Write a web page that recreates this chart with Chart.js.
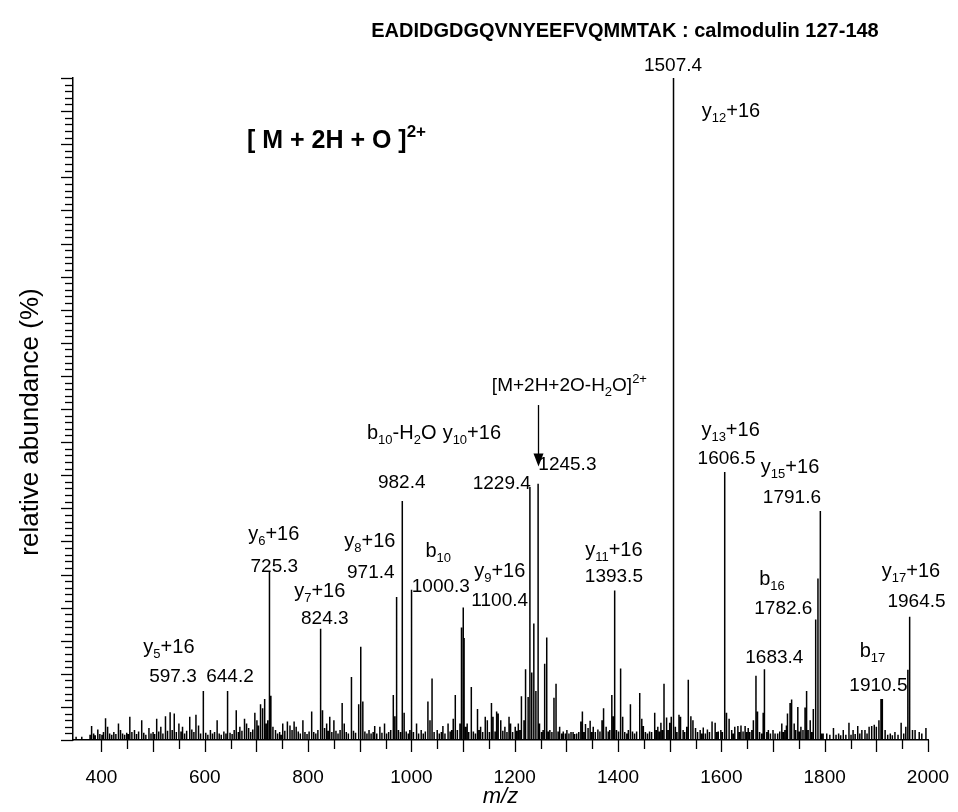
<!DOCTYPE html>
<html lang="en">
  <head>
    <meta charset="UTF-8" />
    <title>calmodulin 127-148</title>
    <style>
      body { margin: 0; background: #fff; }
    </style>
  </head>
  <body>
    <canvas id="myChart" width="958" height="812"></canvas>
    <script src="https://cdn.jsdelivr.net/npm/chart.js@4.4.1/dist/chart.umd.min.js"></script>
    <script>
      // stick spectrum: m/z of each peak and its relative abundance (%), one row per ~100 m/z
      const peakMz = [
        351, 362, 378, 381, 385, 388, 393, 397, 401, 404, 408, 412, 416, 420, 424, 428, 433, 437, 441, 445, 449,
        452, 455, 459, 464, 468, 472, 478, 482, 486, 492, 496, 500, 503, 507, 511, 515, 519, 524, 528, 533, 537, 541, 545, 550,
        554, 557, 561, 565, 571, 575, 579, 583, 588, 592, 597.3, 602, 606, 611, 615, 619, 624, 628, 632, 637, 641, 644.2, 649,
        653, 657, 661, 665, 668, 672, 677, 681, 685, 689, 693, 697, 701, 704, 708, 712, 716, 719, 722, 725.3, 728, 732, 737, 741, 745, 748,
        751, 755, 760, 765, 769, 773, 777, 781, 785, 790, 794, 798, 802, 807, 811, 815, 819, 824.3, 828, 832, 836, 839, 842, 846, 850,
        854, 858, 862, 866, 870, 874, 878, 884, 888, 892, 898, 902, 906, 910, 914, 918, 922, 926, 929, 933, 939, 943, 948,
        952, 956, 960, 965, 968, 971.4, 975, 979, 982.4, 986, 990, 994, 997, 1000.3, 1004, 1010, 1014, 1019, 1023, 1027, 1032, 1036, 1040, 1044, 1050,
        1054, 1058, 1061, 1065, 1071, 1075, 1078, 1081, 1085, 1089, 1094, 1097, 1100.4, 1102, 1105, 1108, 1111, 1116, 1120, 1124, 1128, 1131, 1134, 1138, 1143, 1147,
        1151, 1155, 1158, 1162, 1165, 1168, 1173, 1177, 1181, 1185, 1189, 1192, 1196, 1201, 1204, 1207, 1210, 1213, 1218, 1221, 1226, 1229.4, 1233, 1237, 1241, 1245.3, 1248,
        1252, 1255, 1258, 1262, 1265, 1268, 1272, 1276, 1280, 1284, 1287, 1291, 1294, 1298, 1301, 1305, 1309, 1313, 1316, 1320, 1324, 1328, 1331, 1334, 1337, 1342, 1346, 1349,
        1352, 1356, 1361, 1365, 1369, 1372, 1377, 1381, 1384, 1388, 1391, 1393.5, 1397, 1401, 1405, 1409, 1413, 1417, 1420, 1424, 1428, 1432, 1436, 1442, 1446, 1449,
        1453, 1457, 1461, 1465, 1471, 1474, 1477, 1480, 1483, 1486, 1489, 1494, 1497, 1500, 1503, 1507.4, 1511, 1514, 1518, 1521, 1526, 1529, 1533, 1536, 1541, 1545, 1550,
        1554, 1559, 1562, 1565, 1569, 1573, 1577, 1582, 1588, 1591, 1594, 1599, 1602, 1606.5, 1610, 1615, 1620, 1623, 1626, 1632, 1635, 1638, 1642, 1646, 1649,
        1652, 1655, 1659, 1662, 1667, 1670, 1674, 1678, 1681, 1683.4, 1688, 1691, 1695, 1700, 1704, 1709, 1713, 1717, 1720, 1723, 1726, 1728, 1733, 1736, 1741, 1744, 1748,
        1751, 1754, 1758, 1762, 1765, 1768, 1772, 1775, 1778, 1782.6, 1787, 1791.6, 1794, 1797, 1804, 1810, 1817, 1822, 1827, 1831, 1836, 1841, 1847,
        1851, 1855, 1859, 1864, 1868, 1872, 1878, 1882, 1886, 1891, 1896, 1900, 1905, 1909, 1911.6, 1917, 1922, 1927, 1931, 1936, 1942, 1948, 1953, 1957, 1961, 1964.5, 1970, 1975, 1983, 1988, 1996
      ];
      const peakAbundance = [
        0.5, 0.5, 0.8, 2.1, 1.0, 0.7, 1.6, 0.9, 0.8, 1.2, 3.3, 2.0, 1.0, 0.8, 1.2, 0.9, 2.5, 1.5, 1.0, 0.8, 1.1,
        0.9, 3.5, 1.2, 1.5, 0.9, 1.3, 3.0, 1.1, 0.8, 1.8, 1.0, 1.2, 0.9, 3.2, 1.3, 2.0, 1.0, 3.6, 1.4, 4.2, 1.5, 4.0, 1.2, 2.5,
        1.3, 2.0, 1.0, 1.4, 3.5, 1.6, 1.2, 3.8, 2.2, 1.0, 7.4, 1.1, 0.8, 1.5, 1.0, 1.2, 3.0, 1.0, 0.8, 1.3, 1.0, 7.4, 1.1,
        0.9, 1.5, 4.5, 1.2, 2.0, 1.4, 3.2, 2.5, 1.8, 1.2, 1.6, 4.1, 3.0, 2.2, 5.4, 4.8, 6.2, 2.5, 3.0, 25.5, 6.7, 2.0, 1.5, 1.0, 1.2, 0.8,
        2.5, 1.4, 2.8, 2.2, 1.5, 2.8, 2.0, 1.3, 1.0, 3.0, 1.2, 0.9, 1.3, 4.3, 1.2, 1.0, 1.5, 16.8, 4.5, 1.8, 2.5, 1.4, 3.5, 1.2, 3.0,
        1.4, 1.0, 1.5, 5.6, 2.5, 1.2, 1.0, 9.5, 1.4, 1.1, 5.4, 14.1, 5.8, 1.3, 1.0, 1.5, 1.0, 1.2, 2.1, 1.0, 2.0, 1.1, 2.5,
        1.0, 1.2, 1.5, 6.8, 3.6, 21.6, 1.5, 1.2, 36.1, 4.1, 1.3, 1.0, 1.5, 22.7, 1.2, 2.5, 1.0, 1.5, 1.0, 1.3, 5.8, 3.0, 9.3, 1.2, 1.5,
        1.0, 1.2, 2.1, 1.0, 2.5, 1.3, 1.5, 3.2, 6.8, 1.5, 2.5, 17.0, 20.0, 15.4, 2.0, 2.5, 1.2, 8.0, 1.3, 1.0, 4.7, 1.5, 2.0, 1.2, 3.5, 3.0,
        1.2, 5.6, 3.5, 1.3, 4.3, 4.0, 3.0, 1.4, 2.0, 1.2, 3.5, 2.5, 1.2, 2.0, 1.4, 2.5, 1.5, 6.6, 3.0, 10.7, 6.5, 38.2, 10.2, 17.6, 7.4, 38.7, 2.5,
        1.2, 1.5, 11.5, 15.5, 1.3, 1.5, 1.2, 6.4, 8.5, 1.3, 2.0, 1.0, 1.3, 1.0, 1.5, 1.0, 1.2, 1.2, 0.9, 1.0, 1.2, 2.8, 4.3, 1.2, 2.4, 1.8, 2.9, 1.2,
        2.0, 1.2, 1.6, 1.3, 3.0, 4.8, 2.0, 1.3, 1.5, 6.8, 3.6, 22.6, 1.5, 1.3, 10.8, 3.5, 1.2, 1.0, 1.5, 5.4, 1.3, 1.0, 1.3, 7.1, 3.2, 2.1,
        1.2, 1.0, 1.3, 1.2, 4.1, 1.5, 2.0, 1.3, 2.6, 1.5, 8.5, 3.4, 1.5, 2.6, 3.5, 100, 2.0, 1.2, 3.8, 3.5, 1.5, 1.2, 2.0, 9.1, 3.6, 3.0, 1.8,
        1.2, 1.5, 1.0, 1.9, 1.0, 1.6, 1.2, 2.8, 2.6, 1.2, 1.3, 1.5, 1.2, 40.5, 4.1, 3.2, 1.5, 1.0, 2.0, 2.1, 1.2, 2.2, 1.3, 2.1, 1.2,
        1.8, 1.2, 1.5, 3.0, 9.7, 4.3, 1.2, 1.0, 4.1, 10.7, 1.2, 1.5, 1.0, 1.5, 1.0, 1.0, 1.3, 2.5, 1.2, 1.5, 2.2, 4.0, 5.6, 6.1, 2.5, 1.5, 5.0,
        1.3, 2.0, 1.5, 4.9, 7.4, 1.5, 3.0, 1.2, 4.7, 18.2, 24.4, 34.6, 1.0, 1.0, 1.0, 0.8, 1.8, 0.8, 1.0, 0.7, 1.5, 0.8, 2.6,
        0.8, 1.5, 0.9, 2.1, 1.0, 1.5, 1.5, 1.0, 2.0, 2.1, 2.3, 2.0, 3.0, 6.2, 6.2, 1.5, 0.8, 1.0, 0.7, 1.2, 0.8, 2.6, 1.0, 2.0, 10.6, 18.6, 1.5, 1.5, 1.2, 1.0, 1.8
      ];
      const xTickLabels = [400, 600, 800, 1000, 1200, 1400, 1600, 1800, 2000];

      // peak annotations, anchored in data units (x = m/z, y = % at the text's middle)
      // _{..} = subscript, ^{..} = superscript
      const peakLabels = [
        { t: "1507.4", x: 1506.4, y: 102.1, s: 19 },
        { t: "y_{12}+16", x: 1618.6, y: 95.2, s: 20 },
        { t: "y_{13}+16", x: 1617.9, y: 47.0, s: 20 },
        { t: "1606.5", x: 1610.2, y: 42.7, s: 19 },
        { t: "y_{15}+16", x: 1733, y: 41.4, s: 20 },
        { t: "1791.6", x: 1736.6, y: 36.9, s: 19 },
        { t: "b_{10}-H_{2}O", x: 981.3, y: 46.5, s: 20 },
        { t: "982.4", x: 981.3, y: 39.1, s: 19 },
        { t: "y_{10}+16", x: 1117, y: 46.5, s: 20 },
        { t: "1229.4", x: 1175, y: 39.0, s: 19 },
        { t: "1245.3", x: 1302, y: 41.8, s: 19 },
        { t: "y_{6}+16", x: 733.6, y: 31.3, s: 20 },
        { t: "725.3", x: 734.6, y: 26.4, s: 19 },
        { t: "y_{8}+16", x: 919.5, y: 30.2, s: 20 },
        { t: "971.4", x: 921.5, y: 25.5, s: 19 },
        { t: "y_{7}+16", x: 822.7, y: 22.7, s: 20 },
        { t: "824.3", x: 832.4, y: 18.6, s: 19 },
        { t: "b_{10}", x: 1052, y: 28.7, s: 20 },
        { t: "1000.3", x: 1057, y: 23.4, s: 19 },
        { t: "y_{9}+16", x: 1171, y: 25.7, s: 20 },
        { t: "1100.4", x: 1171, y: 21.3, s: 19 },
        { t: "y_{11}+16", x: 1392, y: 28.9, s: 20 },
        { t: "1393.5", x: 1392, y: 24.9, s: 19 },
        { t: "b_{16}", x: 1698, y: 24.5, s: 20 },
        { t: "1782.6", x: 1720, y: 20.1, s: 19 },
        { t: "1683.4", x: 1702.6, y: 12.7, s: 19 },
        { t: "y_{17}+16", x: 1967, y: 25.7, s: 20 },
        { t: "1964.5", x: 1977.8, y: 21.1, s: 19 },
        { t: "b_{17}", x: 1892.6, y: 13.6, s: 20 },
        { t: "1910.5", x: 1904, y: 8.4, s: 19 },
        { t: "y_{5}+16", x: 530.7, y: 14.2, s: 20 },
        { t: "597.3", x: 538.5, y: 9.8, s: 19 },
        { t: "644.2", x: 648.8, y: 9.8, s: 19 },
        { t: "[ M + 2H + O ]^{2+}", x: 681.6, y: 90.8, s: 25, bold: true, align: "left" },
        { t: "[M+2H+2O-H_{2}O]^{2+}", x: 1456, y: 53.7, s: 19, align: "right" }
      ];
      const precursorArrow = { x: 1245.3, from: 50.6, to: 41.3 };

      const FONT = '"Liberation Sans", Arial, Helvetica, sans-serif';

      // every peak becomes a vertical stick: baseline -> top -> baseline
      const sticks = [];
      peakMz.forEach((m, i) => {
        sticks.push({ x: m, y: 0 }, { x: m, y: peakAbundance[i] }, { x: m, y: 0 });
      });

      function drawRich(c, str, x, y, size, bold, align) {
        const segs = [];
        const re = /([_^])\{([^}]*)\}|([^_^]+)/g;
        let m;
        while ((m = re.exec(str))) {
          if (m[3]) segs.push({ t: m[3], k: "" });
          else segs.push({ t: m[2], k: m[1] });
        }
        const w8 = bold ? "bold " : "";
        const fontFor = (k) => w8 + (k ? Math.round(size * 0.66) : size) + "px " + FONT;
        let total = 0;
        segs.forEach((sg) => {
          c.font = fontFor(sg.k);
          sg.w = c.measureText(sg.t).width;
          total += sg.w;
        });
        let cx = align === "left" ? x : align === "right" ? x - total : x - total / 2;
        const base = y + size * 0.36;
        c.textAlign = "left";
        c.textBaseline = "alphabetic";
        segs.forEach((sg) => {
          c.font = fontFor(sg.k);
          const dy = sg.k === "_" ? size * 0.24 : sg.k === "^" ? -size * 0.42 : 0;
          c.fillText(sg.t, cx, base + dy);
          cx += sg.w;
        });
      }

      const spectrumDecor = {
        id: "spectrumDecor",
        afterDraw(chart) {
          const c = chart.ctx;
          const xs = chart.scales.x;
          const ys = chart.scales.y;
          const area = chart.chartArea;
          c.save();
          c.strokeStyle = "#000";
          c.fillStyle = "#000";
          c.lineWidth = 1.3;

          // x ticks: every 50, longer at labelled ones
          xs.ticks.forEach((tk) => {
            if (tk.value % 50 !== 0) return;
            const px = Math.round(xs.getPixelForValue(tk.value)) + 0.5;
            const len = tk.value % 100 === 0 ? 12 : 9;
            c.beginPath();
            c.moveTo(px, area.bottom);
            c.lineTo(px, area.bottom + len);
            c.stroke();
          });
          // y ticks: every 1 %, longer every 5 %
          ys.ticks.forEach((tk) => {
            if (tk.value % 1 !== 0) return;
            const py = Math.round(ys.getPixelForValue(tk.value)) + 0.5;
            const len = tk.value % 5 === 0 ? 12 : 8;
            c.beginPath();
            c.moveTo(area.left, py);
            c.lineTo(area.left - len, py);
            c.stroke();
          });

          // peak and ion labels
          peakLabels.forEach((lb) => {
            drawRich(c, lb.t, xs.getPixelForValue(lb.x), ys.getPixelForValue(lb.y), lb.s, lb.bold, lb.align || "center");
          });

          // arrow pointing at the precursor-related peak
          const ax = Math.round(xs.getPixelForValue(precursorArrow.x)) + 0.5;
          const a0 = ys.getPixelForValue(precursorArrow.from);
          const a1 = ys.getPixelForValue(precursorArrow.to);
          c.lineWidth = 1.3;
          c.beginPath();
          c.moveTo(ax, a0);
          c.lineTo(ax, a1 - 10);
          c.stroke();
          c.beginPath();
          c.moveTo(ax - 5, a1 - 13);
          c.lineTo(ax + 5, a1 - 13);
          c.lineTo(ax, a1);
          c.closePath();
          c.fill();

          // figure title
          c.font = "bold 20px " + FONT;
          c.textAlign = "center";
          c.textBaseline = "middle";
          c.fillText("EADIDGDGQVNYEEFVQMMTAK : calmodulin 127-148", 625, 31);

          // y axis title, rotated
          c.translate(31, 422);
          c.rotate(-Math.PI / 2);
          c.font = "26px " + FONT;
          c.fillText("relative abundance (%)", 0, 0);
          c.restore();
        }
      };

      const ctx = document.getElementById("myChart").getContext("2d");
      const myChart = new Chart(ctx, {
        type: "line",
        data: {
          datasets: [
            {
              data: sticks,
              borderColor: "#000",
              borderWidth: 1.5,
              pointRadius: 0,
              tension: 0,
              fill: false
            }
          ]
        },
        options: {
          responsive: false,
          animation: false,
          layout: { padding: { top: 78, right: 30, left: 0, bottom: 0 } },
          plugins: {
            legend: { display: false },
            tooltip: { enabled: false }
          },
          scales: {
            x: {
              type: "linear",
              min: 345,
              max: 2000,
              afterFit: (s) => {
                s.height = 72;
                s.paddingLeft = 0;
                s.paddingRight = 0;
              },
              grid: { display: false },
              border: { display: true, color: "#000", width: 1.5 },
              ticks: {
                stepSize: 50,
                autoSkip: false,
                maxRotation: 0,
                padding: 18,
                color: "#000",
                font: { family: FONT, size: 19 },
                callback: (v) => (xTickLabels.includes(v) ? String(v) : "")
              },
              title: {
                display: true,
                text: "m/z",
                color: "#000",
                font: { family: FONT, size: 22, style: "italic" },
                padding: { top: 0, bottom: 2 }
              }
            },
            y: {
              min: 0,
              max: 100,
              afterFit: (s) => { s.width = 73; },
              grid: { display: false },
              border: { display: true, color: "#000", width: 1.5 },
              ticks: { display: false, stepSize: 1 },
              title: { display: false }
            }
          }
        },
        plugins: [spectrumDecor]
      });
    </script>
  </body>
</html>
